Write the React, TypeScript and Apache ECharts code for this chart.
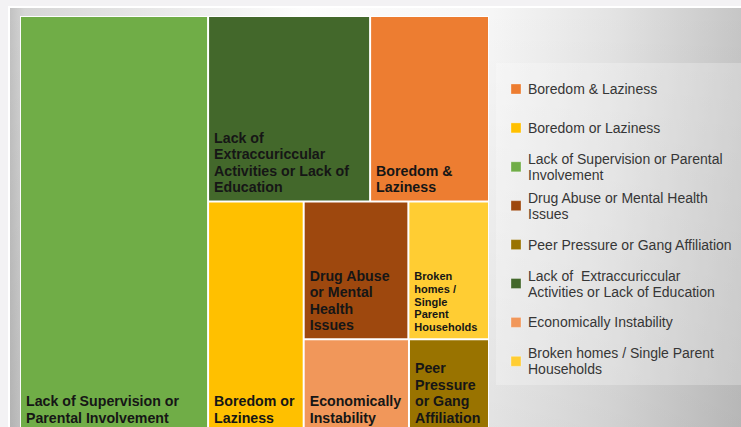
import React, { useEffect, useRef } from "react";
import * as echarts from "echarts";

const categories = [
  "Boredom & Laziness",
  "Boredom or Laziness",
  "Lack of Supervision or Parental Involvement",
  "Drug Abuse or Mental Health Issues",
  "Peer Pressure or Gang Affiliation",
  "Lack of  Extraccuriccular Activities or Lack of Education",
  "Economically Instability",
  "Broken homes / Single Parent Households",
];
const values = [11.3, 11.3, 40.1, 7.4, 3.8, 15.4, 5.0, 5.7];
const colors = ["#ED7D31", "#FFC000", "#70AD47", "#9E480E", "#997300", "#43682B", "#F1975A", "#FFCD33"];
const boxLabels = [
  "Boredom &\nLaziness",
  "Boredom or\nLaziness",
  "Lack of Supervision or\nParental Involvement",
  "Drug Abuse\nor Mental\nHealth\nIssues",
  "Peer\nPressure\nor Gang\nAffiliation",
  "Lack of\nExtraccuriccular\nActivities or Lack of\nEducation",
  "Economically\nInstability",
  "Broken\nhomes /\nSingle\nParent\nHouseholds",
];
const legendLabels = [
  "Boredom & Laziness",
  "Boredom or Laziness",
  "Lack of Supervision or Parental\nInvolvement",
  "Drug Abuse or Mental Health\nIssues",
  "Peer Pressure or Gang Affiliation",
  "Lack of  Extraccuriccular\nActivities or Lack of Education",
  "Economically Instability",
  "Broken homes / Single Parent\nHouseholds",
];
// nesting of the tiles (indices into the arrays above)
const layoutTree: any[] = [2, [[5, 0], [1, [[3, 7], [6, 4]]]]];

const FONT = "'Liberation Sans', Arial, sans-serif";

function leaf(i: number) {
  const small = i === 7;
  return {
    name: categories[i],
    value: values[i],
    itemStyle: { color: colors[i], borderColor: "rgba(255,255,255,0.75)", borderWidth: 1 },
    label: {
      formatter: boxLabels[i],
      fontSize: small ? 11 : 14.2,
      lineHeight: small ? 12.7 : 16.5,
    },
  };
}
function build(t: any): any {
  if (typeof t === "number") return leaf(t);
  return { name: "", children: t.map(build), itemStyle: { borderWidth: 0, gapWidth: 0 } };
}

export default function App() {
  const ref = useRef<HTMLDivElement>(null);
  useEffect(() => {
    if (!ref.current) return;
    const chart = echarts.init(ref.current, null, { renderer: "svg" });
    const legendEls: any[] = [];
    legendLabels.forEach((txt, i) => {
      const cy = 89 + i * 38.9;
      legendEls.push({
        type: "rect",
        shape: { x: 511, y: cy - 5, width: 10, height: 10 },
        style: { fill: colors[i], stroke: "rgba(255,255,255,0.6)", lineWidth: 0.5 },
        z: 10,
      });
      legendEls.push({
        type: "text",
        x: 528,
        y: cy,
        style: {
          text: txt,
          fill: "#363636",
          font: `14px ${FONT}`,
          lineHeight: 16,
          verticalAlign: "middle",
          align: "left",
        },
        z: 10,
      });
    });
    chart.setOption({
      animation: false,
      backgroundColor: "#f3f2f4",
      graphic: [
        { type: "rect", shape: { x: 8, y: 6, width: 733, height: 421 }, style: { fill: "#ffffff" }, z: -10 },
        {
          type: "rect",
          shape: { x: 10, y: 8, width: 731, height: 419 },
          style: {
            fill: new echarts.graphic.LinearGradient(0, 0, 1, 0, [
              { offset: 0, color: "#c2c2c2" },
              { offset: 0.02, color: "#d6d6d6" },
              { offset: 0.4, color: "#fdfdfd" },
              { offset: 0.66, color: "#f6f6f6" },
              { offset: 0.82, color: "#e4e4e4" },
              { offset: 1, color: "#c6c6c6" },
            ]),
          },
          z: -9,
        },
        {
          type: "rect",
          shape: { x: 10, y: 8, width: 731, height: 419 },
          style: {
            fill: new echarts.graphic.LinearGradient(0, 0, 0, 1, [
              { offset: 0, color: "rgba(0,0,0,0)" },
              { offset: 1, color: "rgba(0,0,0,0.08)" },
            ]),
          },
          z: -8,
        },
        {
          type: "rect",
          shape: { x: 496, y: 63, width: 245, height: 322 },
          style: { fill: "rgba(255,255,255,0.25)" },
          z: -7,
        },
        ...legendEls,
      ],
      series: [
        {
          type: "treemap",
          left: 20,
          top: 16,
          width: 469,
          height: 416,
          sort: false,
          squareRatio: 1,
          roam: false,
          nodeClick: false,
          breadcrumb: { show: false },
          visibleMin: 0,
          itemStyle: { borderWidth: 0, gapWidth: 0, borderColor: "rgba(255,255,255,0.75)" },
          label: {
            show: true,
            position: "insideBottomLeft",
            distance: 0,
            padding: [0, 0, 5, 5],
            color: "#161616",
            fontWeight: "bold",
            fontFamily: FONT,
            overflow: "none",
          },
          upperLabel: { show: false },
          data: layoutTree.map(build),
        },
      ],
    });
    return () => chart.dispose();
  }, []);
  return (
    <div
      ref={ref}
      style={{ position: "fixed", left: 0, top: 0, width: 741, height: 427 }}
    />
  );
}
